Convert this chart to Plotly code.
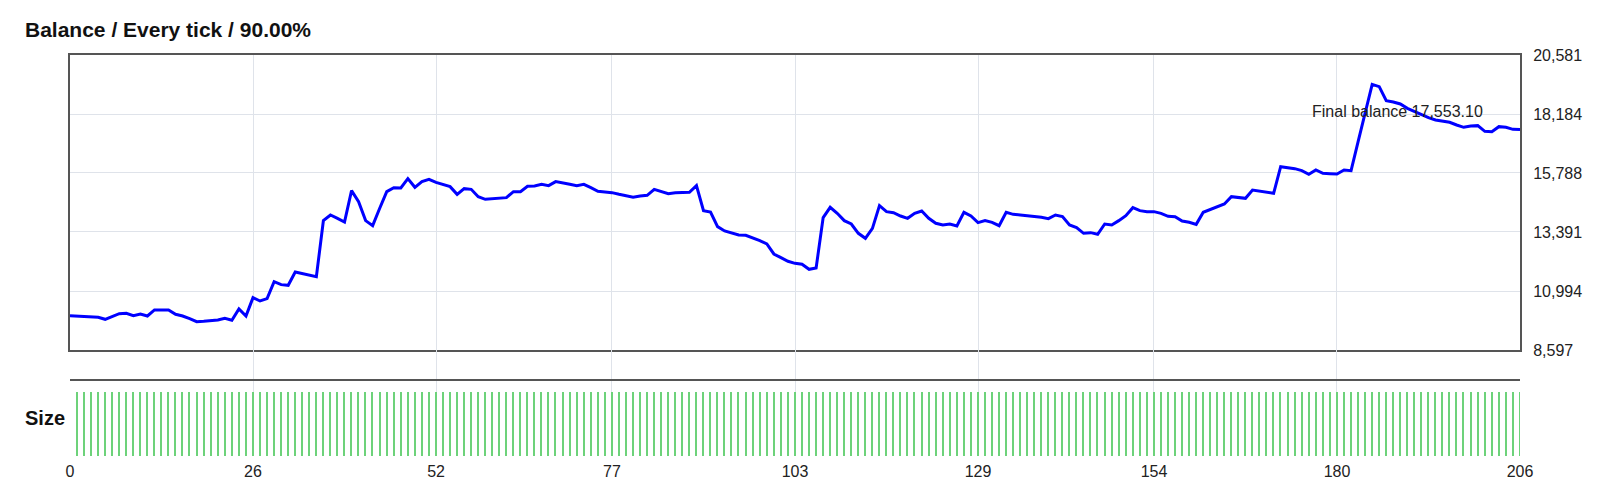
import plotly.graph_objects as go

# ---- data ----
balance = [
    9993, 9979, 9966, 9952, 9925, 9844, 9966, 10074, 10087, 9993,
    10060, 9979, 10223, 10223, 10223, 10047, 9979, 9871, 9749, 9763,
    9790, 9817, 9884, 9803, 10263, 9979, 10724, 10588, 10683, 11374,
    11252, 11225, 11766, 11712, 11658, 11577, 13852, 14082, 13946, 13797,
    15070, 14623, 13852, 13648, 14353, 15030, 15192, 15178, 15558, 15206,
    15436, 15531, 15409, 15327, 15233, 14921, 15151, 15124, 14826, 14718,
    14732, 14745, 14786, 15030, 15030, 15246, 15260, 15327, 15273, 15436,
    15368, 15327, 15273, 15327, 15192, 15043, 15016, 14989, 14921, 14854,
    14799, 14854, 14881, 15124, 15043, 14948, 14989, 15002, 15002, 15273,
    14258, 14204, 13608, 13432, 13351, 13269, 13256, 13161, 13039, 12904,
    12498, 12349, 12200, 12118, 12078, 11875, 11929, 13973, 14393, 14149,
    13852, 13716, 13337, 13134, 13540, 14461, 14217, 14177, 14041, 13946,
    14149, 14244, 13946, 13743, 13676, 13716, 13635, 14190, 14041, 13770,
    13852, 13784, 13648, 14190, 14109, 14082, 14055, 14028, 13987, 13933,
    14082, 14014, 13676, 13567, 13337, 13364, 13297, 13716, 13676, 13852,
    14055, 14380, 14258, 14217, 14217, 14149, 14028, 14014, 13838, 13784,
    13700, 14190, 14300, 14400, 14529, 14827, 14786, 14759, 15097, 15057,
    15016, 14962, 16045, 16018, 15964, 15883, 15734, 15910, 15774, 15761,
    15747, 15910, 15883, 17061, 18212, 19390, 19295, 18726, 18672, 18591,
    18415, 18279, 18144, 18036, 17941, 17900, 17846, 17738, 17643, 17697,
    17711, 17480, 17467, 17670, 17643, 17562, 17553.10,
]
trades = list(range(len(balance)))

sizes = [
    1, 1, 1, 1, 1, 1, 1, 1, 1, 1, 1, 1, 1, 1, 1, 1, 1, 1, 1, 1,
    1, 1, 1, 1, 1, 1, 1, 1, 1, 1, 1, 1, 1, 1, 1, 1, 1, 1, 1, 1,
    1, 1, 1, 1, 1, 1, 1, 1, 1, 1, 1, 1, 1, 1, 1, 1, 1, 1, 1, 1,
    1, 1, 1, 1, 1, 1, 1, 1, 1, 1, 1, 1, 1, 1, 1, 1, 1, 1, 1, 1,
    1, 1, 1, 1, 1, 1, 1, 1, 1, 1, 1, 1, 1, 1, 1, 1, 1, 1, 1, 1,
    1, 1, 1, 1, 1, 1, 1, 1, 1, 1, 1, 1, 1, 1, 1, 1, 1, 1, 1, 1,
    1, 1, 1, 1, 1, 1, 1, 1, 1, 1, 1, 1, 1, 1, 1, 1, 1, 1, 1, 1,
    1, 1, 1, 1, 1, 1, 1, 1, 1, 1, 1, 1, 1, 1, 1, 1, 1, 1, 1, 1,
    1, 1, 1, 1, 1, 1, 1, 1, 1, 1, 1, 1, 1, 1, 1, 1, 1, 1, 1, 1,
    1, 1, 1, 1, 1, 1, 1, 1, 1, 1, 1, 1, 1, 1, 1, 1, 1, 1, 1, 1,
    1, 1, 1, 1, 1, 1,
]
size_x = list(range(1, len(sizes) + 1))

x_ticks = [0, 26, 52, 77, 103, 129, 154, 180, 206]
y_ticks = [8597, 10994, 13391, 15788, 18184, 20581]
y_tick_text = ["8,597", "10,994", "13,391", "15,788", "18,184", "20,581"]

title_text = "Balance / Every tick / 90.00%"
final_text = "Final balance 17,553.10"

# ---- styling ----
FONT = "Liberation Sans, Arial, sans-serif"
GRID = "#dfe3ea"
FRAME = "#555555"
W, H = 1592, 492  # page body has an 8px margin

fig = go.Figure()

fig.add_trace(go.Scatter(
    x=trades, y=balance, mode="lines",
    line=dict(color="#0000ff", width=3),
    xaxis="x", yaxis="y", showlegend=False, hoverinfo="skip",
))

fig.add_trace(go.Bar(
    x=size_x, y=sizes, width=0.2,
    marker=dict(color="#6dd27a", line=dict(width=0)),
    xaxis="x2", yaxis="y2", showlegend=False, hoverinfo="skip",
))

split = (456 - 350) / 401

fig.update_layout(
    width=W, height=H,
    margin=dict(l=62, r=80, t=47, b=44),
    paper_bgcolor="white", plot_bgcolor="white",
    font=dict(family=FONT, size=16, color="#222222"),
    title=dict(text="<b>" + title_text + "</b>", x=17 / W, xanchor="left",
               xref="container", y=1 - 22 / H, yanchor="middle", yref="container",
               font=dict(family=FONT, size=21, color="#111111")),
    xaxis=dict(domain=[0, 1], range=[0, 206], tickvals=x_ticks, showticklabels=False,
               showgrid=True, gridcolor=GRID, gridwidth=1, zeroline=False,
               showline=True, mirror=True, linecolor=FRAME, linewidth=2, ticks=""),
    yaxis=dict(domain=[split, 1], range=[8597, 20581], tickvals=y_ticks, ticktext=y_tick_text,
               side="right", showgrid=True, gridcolor=GRID, gridwidth=1, zeroline=False,
               showline=True, mirror=True, linecolor=FRAME, linewidth=2, ticks="",
               ticklabelstandoff=8, tickfont=dict(size=16, color="#222222")),
    xaxis2=dict(domain=[0, 1], range=[0, 206], tickvals=x_ticks, anchor="y2",
                showgrid=True, gridcolor=GRID, gridwidth=1, zeroline=False,
                showline=False, ticks="", ticklabelstandoff=4,
                tickfont=dict(size=16, color="#222222")),
    yaxis2=dict(domain=[0, split], range=[0, 106 / 64], anchor="x2",
                showgrid=False, showticklabels=False, zeroline=False, showline=False),
    bargap=0,
)

# top border line of the size panel
fig.add_shape(type="line", xref="x2", yref="y2", x0=0, x1=206, y0=76 / 64, y1=76 / 64,
              line=dict(color=FRAME, width=2))

fig.add_annotation(x=trades[-1], y=balance[-1], xref="x", yref="y", text=final_text,
                   showarrow=False, xanchor="right", yanchor="middle", xshift=-35, yshift=18,
                   font=dict(family=FONT, size=16, color="#222222"))

fig.add_annotation(x=(23 - 70) / 1450, y=(456 - 418) / 401, xref="paper", yref="paper",
                   text="<b>Size</b>", showarrow=False, xanchor="left", yanchor="middle",
                   font=dict(family=FONT, size=20, color="#111111"))

fig.write_html("out.html")
